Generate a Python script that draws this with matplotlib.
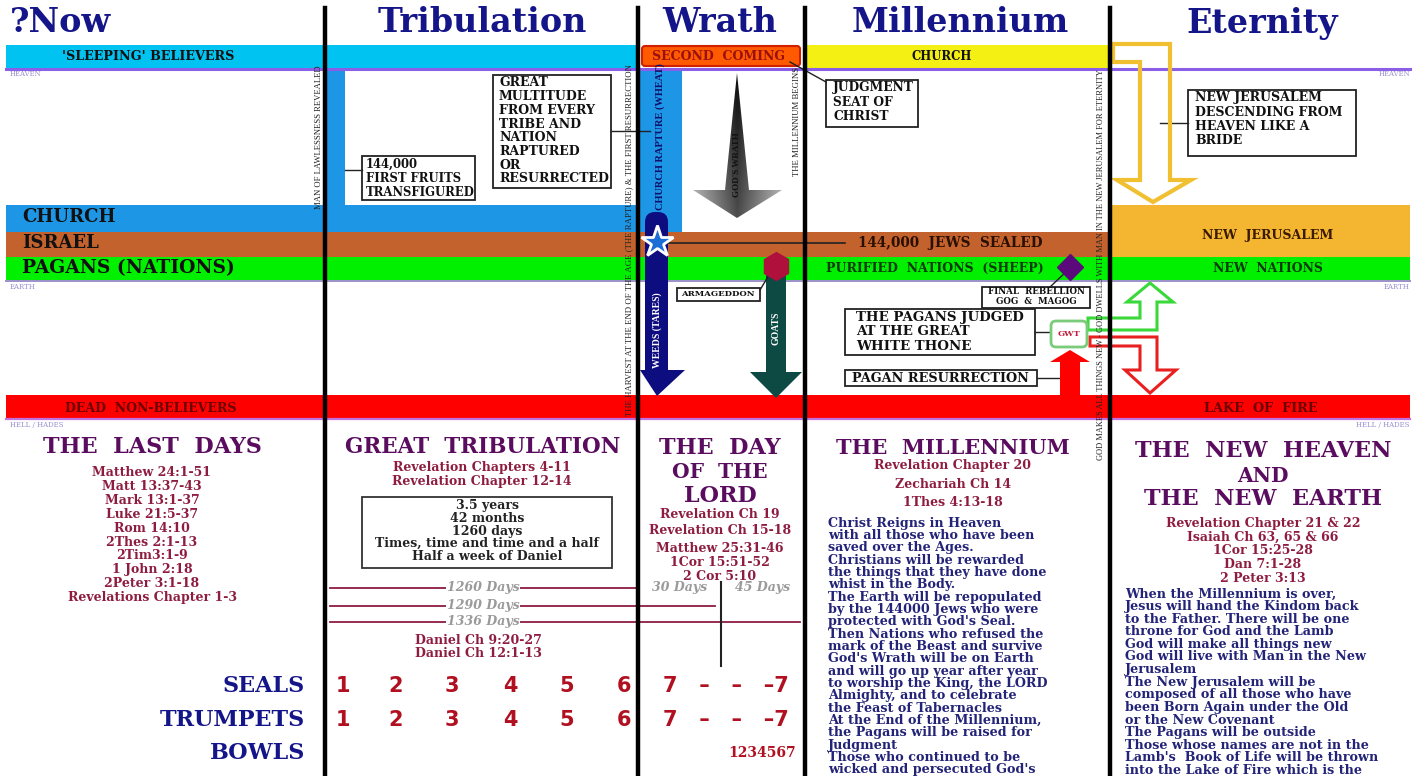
import numpy as np
import matplotlib
matplotlib.use('Agg')
import matplotlib.pyplot as plt
from matplotlib.patches import Polygon, Rectangle, FancyBboxPatch

# ---------------------------------------------------------------
# chart content
# ---------------------------------------------------------------
era_titles   = ['?Now', 'Tribulation', 'Wrath', 'Millennium', 'Eternity']
era_title_x  = [10, 482, 720, 960, 1262]
era_dividers = [325, 638, 805, 1110]

band_labels  = ["'SLEEPING' BELIEVERS", 'CHURCH', 'ISRAEL', 'PAGANS (NATIONS)']
realm_labels = ['HEAVEN', 'EARTH', 'HELL / HADES']

last_days_refs = ['Matthew 24:1-51', 'Matt 13:37-43', 'Mark 13:1-37', 'Luke 21:5-37',
                  'Rom 14:10', '2Thes 2:1-13', '2Tim3:1-9', '1 John 2:18',
                  '2Peter 3:1-18', 'Revelations Chapter 1-3']
trib_refs   = ['Revelation Chapters 4-11', 'Revelation Chapter 12-14']
trib_period = ['3.5 years', '42 months', '1260 days',
               'Times, time and time and a half', 'Half a week of Daniel']
daniel_refs = ['Daniel Ch 9:20-27', 'Daniel Ch 12:1-13']
day_counts  = [1260, 1290, 1336]
extra_days  = [30, 45]
wrath_refs  = ['Revelation Ch 19', 'Revelation Ch 15-18', 'Matthew 25:31-46',
               '1Cor 15:51-52', '2 Cor 5:10']
mill_refs   = ['Revelation Chapter 20', 'Zechariah Ch 14', '1Thes 4:13-18']
mill_text   = ['Christ Reigns in Heaven', 'with all those who have been',
               'saved over the Ages.', 'Christians will be rewarded',
               'the things that they have done', 'whist in the Body.',
               'The Earth will be repopulated', 'by the 144000 Jews who were',
               "protected with God's Seal.", 'Then Nations who refused the',
               'mark of the Beast and survive', "God's Wrath will be on Earth",
               'and will go up year after year', 'to worship the King, the LORD',
               'Almighty, and to celebrate', 'the Feast of Tabernacles',
               'At the End of the Millennium,', 'the Pagans will be raised for',
               'Judgment', 'Those who continued to be', "wicked and persecuted God's"]
eternity_refs = ['Revelation Chapter 21 & 22', 'Isaiah Ch 63, 65 & 66',
                 '1Cor 15:25-28', 'Dan 7:1-28', '2 Peter 3:13']
eternity_text = ['When the Millennium is over,', 'Jesus will hand the Kindom back',
                 'to the Father. There will be one', 'throne for God and the Lamb',
                 'God will make all things new', 'God will live with Man in the New',
                 'Jerusalem', 'The New Jerusalem will be',
                 'composed of all those who have', 'been Born Again under the Old',
                 'or the New Covenant', 'The Pagans will be outside',
                 'Those whose names are not in the', "Lamb's  Book of Life will be thrown",
                 'into the Lake of Fire which is the']
judgement_rows = ['SEALS', 'TRUMPETS', 'BOWLS']
seal_numbers   = ['1', '2', '3', '4', '5', '6']
seal_x         = [343, 396, 452, 510, 567, 624]

# colours
NAVY   = '#15158a'
PURPLE = '#5a0c5e'
MAROON = '#8e1c40'
BODY   = '#232378'
SERIF  = 'DejaVu Serif'

fig = plt.figure(figsize=(14.23, 7.76), dpi=100)
ax = fig.add_axes([0, 0, 1, 1])
ax.set_xlim(0, 1423)
ax.set_ylim(776, 0)
ax.axis('off')


def box(x0, y0, x1, y1, fc, ec='none', lw=0, z=1):
    ax.add_patch(Rectangle((x0, y0), x1 - x0, y1 - y0, facecolor=fc,
                           edgecolor=ec, linewidth=lw, zorder=z))


def poly(pts, fc, ec='none', lw=0, z=3):
    p = Polygon(pts, closed=True, facecolor=fc, edgecolor=ec, linewidth=lw, zorder=z)
    ax.add_patch(p)
    return p


def label(x, y, s, size, color='#111111', ha='center', weight='bold', z=6, **kw):
    ax.text(x, y, s, fontsize=size, color=color, ha=ha, va='center',
            fontweight=weight, family=kw.pop('family', SERIF), zorder=z, **kw)


def note(x0, y0, x1, y1, lines, size=9, lh=13.5, pad=7):
    box(x0, y0, x1, y1, 'white', '#222222', 1.3, z=5)
    for i, s in enumerate(lines):
        label(x0 + pad, y0 + 8 + i * lh, s, size, ha='left', z=6)


# ---------------- bands ----------------
box(6, 45, 638, 68, '#00c3f2')                  # sleeping believers
box(805, 45, 1110, 68, '#f4f014')               # church in millennium
box(325, 68, 345, 205, '#1d96e6')               # tribulation U
box(6, 205, 638, 232, '#1d96e6')                # church
box(640, 68, 682, 232, '#1d96e6')               # rapture column
box(6, 232, 1110, 257, '#c4622e')               # israel
box(1110, 205, 1410, 257, '#f4b630')            # new jerusalem
box(6, 257, 1410, 280, '#00f000')               # pagans
box(6, 395, 1410, 418, '#ff0000')               # dead
ax.add_patch(FancyBboxPatch((642, 46), 158, 20, boxstyle='round,pad=0,rounding_size=3',
                            facecolor='#ff5a00', edgecolor='#d02000', linewidth=1.5, zorder=2))

ax.plot([6, 1410], [68.5, 68.5], color='#8a5ee6', lw=2.2, zorder=2)
ax.plot([6, 1410], [281, 281], color='#9a90c8', lw=1.4, zorder=2)
ax.plot([6, 1410], [418.5, 418.5], color='#c070e0', lw=1.6, zorder=2)

for xd in era_dividers:
    ax.plot([xd, xd], [8, 776], color='black', lw=3.2, zorder=8)

for i, (t, xt) in enumerate(zip(era_titles, era_title_x)):
    label(xt, 23, t, 24, color=NAVY, ha='left' if i == 0 else 'center')

# band labels
label(148, 57, band_labels[0], 9.2)
label(22, 217, band_labels[1], 13, ha='left')
label(22, 243, band_labels[2], 13, ha='left')
label(22, 268, band_labels[3], 13.5, ha='left')
label(719, 56, 'SECOND  COMING', 9, color='#9a1010')
label(942, 56, 'CHURCH', 8.4)
label(1268, 236, 'NEW  JERUSALEM', 9, color='#3a1a00')
label(1268, 268, 'NEW  NATIONS', 8.9, color='#0a3a0a')
label(950, 243, '144,000  JEWS  SEALED', 9.8, color='#2a1000')
label(935, 268, 'PURIFIED  NATIONS  (SHEEP)', 9, color='#0a3a0a')
label(151, 408, 'DEAD  NON-BELIEVERS', 9, color='#6a0000')
label(1261, 408, 'LAKE  OF  FIRE', 9.3, color='#6a0000')

# realm labels
for xr, ha in [(10, 'left'), (1410, 'right')]:
    label(xr, 74, realm_labels[0], 5, color='#9a90d0', ha=ha, weight='normal')
    label(xr, 287, realm_labels[1], 5, color='#9a90d0', ha=ha, weight='normal')
    label(xr, 425, realm_labels[2], 5, color='#9a90d0', ha=ha, weight='normal')

# vertical captions
vt = dict(rotation=90, weight='normal', family='Liberation Serif', color='#222222')
label(319, 137, 'MAN OF LAWLESSNESS REVEALED', 6.2, **vt)
label(629, 240, 'THE HARVEST AT THE END OF THE AGE (THE RAPTURE) & THE FIRST RESURRECTION', 6.3, **vt)
label(797, 122, 'THE MILLENNIUM BEGINS', 6.3, **vt)
label(1101, 265, 'GOD MAKES ALL THINGS NEW - GOD DWELLS WITH MAN IN THE NEW JERUSALEM FOR ETERNITY', 6.0, **vt)
label(660, 137, 'CHURCH RAPTURE (WHEAT)', 7.5, rotation=90, color='#10106a',
      family='Liberation Serif')

# notes
note(362, 156, 475, 200, ['144,000', 'FIRST FRUITS', 'TRANSFIGURED'], size=8.4, lh=14, pad=4)
ax.plot([345, 362], [170, 170], color='#222222', lw=1, zorder=5)
note(493, 75, 611, 188, ['GREAT', 'MULTITUDE', 'FROM EVERY', 'TRIBE AND', 'NATION',
                         'RAPTURED', 'OR', 'RESURRECTED'], size=9, lh=13.7, pad=6)
ax.plot([611, 650], [131, 131], color='#222222', lw=1, zorder=5)
note(826, 80, 918, 127, ['JUDGMENT', 'SEAT OF', 'CHRIST'], size=8.8, lh=14)
ax.plot([790, 826], [62, 82], color='#222222', lw=1, zorder=5)
note(1188, 90, 1356, 156, ['NEW JERUSALEM', 'DESCENDING FROM', 'HEAVEN LIKE A', 'BRIDE'],
     size=9, lh=14)
ax.plot([1160, 1188], [123, 123], color='#222222', lw=1, zorder=5)
note(845, 309, 1035, 355, ['THE PAGANS JUDGED', 'AT THE GREAT', 'WHITE THONE'],
     size=9.6, lh=14.5, pad=11)
ax.plot([1035, 1050], [332, 332], color='#222222', lw=1, zorder=5)
note(845, 370, 1037, 386, ['PAGAN RESURRECTION'], size=9.3)
ax.plot([1037, 1062], [378, 378], color='#222222', lw=1, zorder=5)
note(677, 288, 760, 301, [], size=6)
label(718, 294.5, 'ARMAGEDDON', 6.1, z=6)
ax.plot([760, 772], [290, 270], color='#222222', lw=1, zorder=5)
note(982, 287, 1090, 308, [], size=5)
label(1036, 292, 'FINAL  REBELLION', 6.2, z=6)
label(1036, 302, 'GOG  &  MAGOG', 6.2, z=6)
ax.plot([1050, 1068], [287, 270], color='#222222', lw=1, zorder=5)

# god's wrath arrow with grey gradient
wrath = poly([(737, 73), (749, 190), (782, 190), (737, 218), (693, 190), (725, 190)],
             'none', z=3)
grad = np.abs(np.linspace(-1, 1, 200))[None, :] * 0.45 + np.linspace(0.05, 0.3, 150)[:, None]
im = ax.imshow(grad, cmap='gray', vmin=0, vmax=1, extent=[693, 782, 218, 73],
               aspect='auto', zorder=3)
im.set_clip_path(wrath)
ax.set_xlim(0, 1423)
ax.set_ylim(776, 0)
label(737, 165, "GOD'S WRATH", 6.5, rotation=90, family='Liberation Serif', z=7)

# weeds and goats arrows
poly([(645, 222), (668, 222), (668, 370), (685, 370), (657, 396), (640, 370), (645, 370)],
     '#0d0d80', z=4)
ax.add_patch(FancyBboxPatch((645, 212), 23, 30, boxstyle='round,pad=0,rounding_size=10',
                            facecolor='#0d0d80', edgecolor='none', zorder=4))
label(657, 330, 'WEEDS (TARES)', 7, color='white', rotation=90,
      family='Liberation Serif', z=7)
poly([(766, 272), (786, 272), (786, 372), (802, 372), (776, 398), (750, 372), (766, 372)],
     '#0d4a44', z=4)
label(776, 328, 'GOATS', 7, color='white', rotation=90, family='Liberation Serif', z=7)
ax.plot([776], [266], marker='h', markersize=20, color='#b0103c', zorder=6)
ax.plot([660, 845], [243, 243], color='#222222', lw=1.2, zorder=5)
ax.plot([657], [242], marker='*', markersize=24, markerfacecolor='#1c6ed6',
        markeredgecolor='white', markeredgewidth=2, zorder=7)
ax.plot([1070], [267], marker='D', markersize=13, color='#5a0a7a', zorder=6)

# GWT and connecting arrows
ax.add_patch(FancyBboxPatch((1051, 321), 36, 26, boxstyle='round,pad=0,rounding_size=5',
                            facecolor='white', edgecolor='#7acb7a', linewidth=2, zorder=6))
label(1069, 334, 'GWT', 6, color='#c02040', z=7)
poly([(1060, 395), (1080, 395), (1080, 362), (1090, 362), (1070, 350), (1050, 362), (1060, 362)],
     '#ff0000', z=5)
poly([(1088, 318), (1140, 318), (1140, 302), (1127, 302), (1150, 283), (1173, 302),
      (1157, 302), (1157, 330), (1088, 330)], 'white', '#3ad83a', 2.2, z=5)
poly([(1090, 337), (1157, 337), (1157, 370), (1176, 370), (1150, 393), (1125, 370),
      (1140, 370), (1140, 346), (1090, 346)], 'white', '#e82020', 2.2, z=5)
poly([(1113, 44), (1170, 44), (1170, 180), (1191, 180), (1153, 202), (1117, 180),
      (1140, 180), (1140, 62), (1113, 62)], 'none', '#f0c030', 3, z=5)

# ---------------- lower panels ----------------
TS = 16
label(152, 447, 'THE  LAST  DAYS', TS, color=PURPLE)
for i, s in enumerate(last_days_refs):
    label(152, 473 + i * 13.8, s, 9, color=MAROON)

label(483, 447, 'GREAT  TRIBULATION', 15.5, color=PURPLE)
for i, s in enumerate(trib_refs):
    label(482, 467 + i * 14, s, 9, color=MAROON)
box(362, 497, 612, 568, 'white', '#333333', 1.3, z=5)
for i, s in enumerate(trib_period):
    label(487, 506 + i * 12.5, s, 9, color='#222222')
for i, s in enumerate(daniel_refs):
    label(478, 640 + i * 13.5, s, 9, color=MAROON)

# day spans
day_end = [638, 715, 800]
day_y   = [588, 606, 622]
for d, xe, yd in zip(day_counts, day_end, day_y):
    ax.plot([330, xe], [yd, yd], color=MAROON, lw=1.3, zorder=4)
    label(483, yd, f'{d} Days', 9, color='#9a9a9a', style='italic',
          bbox=dict(facecolor='white', edgecolor='none', pad=0.5), z=5)
ax.plot([721, 721], [582, 666], color='#222222', lw=1.5, zorder=5)
label(680, 588, f'{extra_days[0]} Days', 9, color='#9a9a9a', style='italic')
label(763, 588, f'{extra_days[1]} Days', 9, color='#9a9a9a', style='italic')

label(720, 448, 'THE  DAY', TS, color=PURPLE)
label(720, 472, 'OF  THE', 14.5, color=PURPLE)
label(720, 496, 'LORD', TS, color=PURPLE)
for i, (s, yy) in enumerate(zip(wrath_refs, [515, 530, 548, 563, 576])):
    label(720, yy, s, 9, color=MAROON)

label(953, 448, 'THE  MILLENNIUM', 15, color=PURPLE)
for s, yy in zip(mill_refs, [466, 485, 502]):
    label(953, yy, s, 9, color=MAROON)
for i, s in enumerate(mill_text):
    label(828, 523 + i * 12.35, s, 9.2, color=BODY, ha='left')

label(1263, 451, 'THE  NEW  HEAVEN', TS, color=PURPLE)
label(1263, 476, 'AND', 14.5, color=PURPLE)
label(1263, 499, 'THE  NEW  EARTH', TS, color=PURPLE)
for s, yy in zip(eternity_refs, [523, 537, 550, 564, 578]):
    label(1263, yy, s, 9, color=MAROON)
for i, s in enumerate(eternity_text):
    label(1125, 594 + i * 12.6, s, 9.2, color=BODY, ha='left')

# seals / trumpets / bowls
for s, yy in zip(judgement_rows, [686, 720, 753]):
    label(305, yy, s, 16, color=NAVY, ha='right')
for yy in [686, 720]:
    for n, xn in zip(seal_numbers, seal_x):
        label(xn, yy, n, 15, color='#b01020', family='DejaVu Sans')
    label(726, yy, '7   \u2013   \u2013   \u20137', 15, color='#b01020', family='DejaVu Sans')
label(762, 753, '1234567', 10, color='#b01020')

fig.savefig('out.png', dpi=100, facecolor='white')
